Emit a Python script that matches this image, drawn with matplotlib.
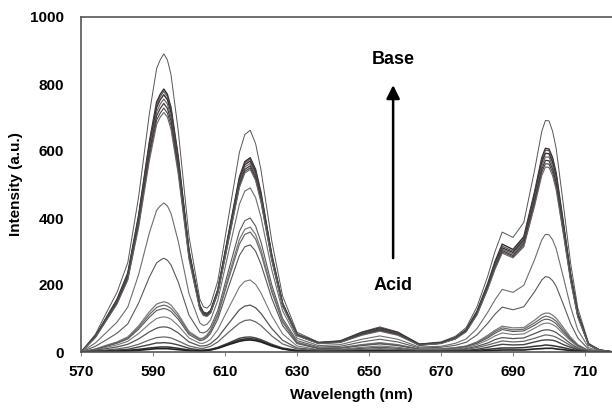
import numpy as np
import matplotlib
matplotlib.use('Agg')
import matplotlib.pyplot as plt

plt.rcParams['font.family'] = ['Liberation Sans', 'DejaVu Sans']

wavelength = [570, 574, 577, 580, 583, 586, 589, 591, 593, 595,
              597, 600, 603, 605, 608, 611, 614, 617, 620, 623,
              626, 630, 636, 642, 648, 653, 658, 664, 670, 674,
              677, 680, 683, 685, 687, 690, 693, 696, 698, 700,
              702, 704, 706, 708, 711, 714, 718]

# spectra from base (top) to acid (bottom)
spectra = [
    [0, 53, 116, 178, 267, 463, 712, 846, 890, 828, 662, 345, 158, 131, 212, 404, 596, 662, 543, 331,
     167, 59, 29, 34, 60, 75, 60, 24, 30, 47, 73, 135, 227, 300, 358, 342, 387, 543, 659, 690,
     607, 439, 265, 131, 26, 7, 0],
    [0, 47, 102, 157, 236, 408, 628, 746, 785, 730, 584, 304, 139, 115, 186, 354, 522, 580, 476, 290,
     146, 53, 28, 32, 58, 72, 58, 23, 28, 43, 67, 122, 205, 270, 322, 306, 344, 478, 580, 606,
     534, 386, 233, 115, 23, 6, 0],
    [0, 47, 101, 156, 233, 405, 622, 739, 778, 724, 579, 302, 138, 114, 185, 351, 518, 576, 472, 288,
     145, 53, 28, 32, 56, 70, 56, 22, 27, 42, 66, 120, 201, 265, 316, 301, 339, 474, 574, 601,
     528, 382, 231, 114, 23, 6, 0],
    [0, 46, 100, 154, 230, 399, 614, 730, 768, 714, 571, 298, 137, 113, 183, 348, 513, 570, 467, 285,
     144, 51, 27, 31, 54, 68, 54, 22, 27, 41, 64, 117, 198, 261, 311, 297, 334, 467, 566, 592,
     521, 377, 228, 112, 22, 6, 0],
    [0, 45, 98, 151, 227, 393, 604, 717, 755, 702, 562, 293, 134, 111, 180, 343, 507, 563, 462, 282,
     142, 51, 26, 30, 54, 67, 54, 21, 26, 41, 63, 115, 195, 258, 307, 293, 329, 459, 556, 582,
     512, 370, 224, 110, 22, 6, 0],
    [0, 45, 96, 148, 223, 386, 594, 705, 742, 690, 552, 288, 132, 109, 178, 339, 500, 556, 456, 278,
     140, 50, 26, 30, 53, 66, 53, 21, 26, 40, 63, 114, 193, 253, 303, 288, 324, 451, 546, 571,
     503, 364, 220, 108, 22, 5, 0],
    [0, 44, 95, 146, 218, 379, 582, 692, 728, 677, 542, 283, 130, 108, 176, 336, 495, 550, 451, 275,
     138, 49, 25, 29, 51, 64, 51, 20, 26, 39, 62, 112, 190, 250, 299, 284, 318, 442, 537, 561,
     493, 357, 216, 106, 21, 5, 0],
    [0, 43, 93, 143, 215, 372, 572, 679, 715, 665, 532, 277, 127, 106, 175, 332, 491, 545, 447, 273,
     137, 49, 25, 28, 50, 62, 50, 20, 25, 39, 60, 111, 188, 247, 295, 281, 314, 436, 527, 551,
     484, 351, 212, 104, 21, 5, 0],
    [0, 27, 58, 89, 134, 231, 356, 423, 445, 414, 331, 174, 87, 83, 154, 299, 441, 490, 402, 245,
     123, 41, 19, 22, 38, 48, 38, 15, 17, 26, 39, 70, 119, 156, 187, 178, 199, 276, 335, 350,
     308, 223, 135, 66, 13, 3, 0],
    [0, 17, 36, 56, 84, 146, 224, 266, 280, 260, 209, 110, 59, 62, 124, 244, 360, 400, 328, 200,
     100, 34, 15, 17, 30, 38, 30, 12, 14, 20, 29, 51, 86, 113, 134, 126, 135, 180, 215, 223,
     196, 142, 85, 42, 8, 2, 0],
    [0, 9, 20, 30, 45, 78, 120, 143, 150, 140, 113, 61, 40, 51, 114, 228, 336, 373, 306, 187,
     93, 29, 12, 13, 22, 28, 22, 9, 9, 13, 18, 30, 50, 65, 77, 72, 73, 95, 112, 116,
     101, 73, 44, 22, 4, 1, 0],
    [0, 8, 18, 28, 42, 73, 112, 133, 140, 130, 106, 57, 38, 48, 109, 218, 322, 358, 294, 179,
     89, 28, 11, 12, 21, 26, 21, 8, 9, 13, 17, 28, 46, 61, 72, 66, 68, 87, 102, 105,
     92, 66, 40, 20, 4, 1, 0],
    [0, 8, 17, 26, 39, 68, 104, 124, 130, 121, 98, 52, 34, 43, 98, 195, 288, 320, 262, 160,
     79, 25, 10, 11, 19, 24, 19, 8, 8, 11, 16, 26, 42, 56, 67, 61, 63, 80, 94, 97,
     84, 60, 37, 18, 4, 1, 0],
    [0, 6, 14, 21, 32, 55, 84, 100, 105, 98, 79, 42, 26, 31, 67, 131, 194, 215, 176, 108,
     54, 18, 7, 8, 14, 18, 14, 6, 7, 9, 13, 22, 36, 48, 57, 52, 54, 71, 83, 86,
     75, 54, 33, 16, 3, 1, 0],
    [0, 5, 10, 15, 23, 39, 60, 71, 75, 70, 57, 30, 18, 20, 43, 85, 126, 140, 115, 70,
     35, 12, 6, 6, 11, 14, 11, 4, 5, 7, 10, 17, 27, 37, 43, 40, 42, 55, 64, 66,
     58, 42, 25, 12, 2, 1, 0],
    [0, 3, 6, 9, 14, 23, 36, 43, 45, 42, 33, 18, 11, 14, 30, 59, 86, 96, 79, 48,
     24, 9, 4, 5, 8, 10, 8, 3, 4, 6, 8, 13, 21, 27, 33, 30, 32, 41, 48, 50,
     44, 32, 19, 9, 2, 0, 0],
    [0, 2, 4, 6, 8, 15, 22, 27, 28, 26, 21, 11, 6, 7, 14, 27, 41, 45, 37, 23,
     12, 5, 2, 3, 5, 6, 5, 2, 3, 4, 5, 8, 14, 19, 23, 21, 22, 30, 35, 36,
     32, 22, 14, 7, 1, 0, 0],
    [0, 1, 2, 3, 5, 8, 12, 14, 15, 14, 11, 6, 4, 5, 12, 24, 36, 40, 33, 20,
     10, 3, 1, 2, 3, 4, 3, 1, 1, 2, 3, 5, 8, 10, 12, 12, 13, 17, 19, 20,
     17, 13, 8, 4, 1, 0, 0],
    [0, 1, 1, 2, 3, 5, 8, 10, 10, 9, 7, 4, 3, 5, 11, 22, 32, 36, 30, 18,
     9, 3, 1, 1, 2, 3, 2, 1, 1, 1, 1, 2, 4, 5, 6, 6, 6, 9, 10, 11,
     9, 7, 4, 2, 0, 0, 0],
]

# extra readings around the peaks and the 605 nm valley
wavelength_extra = [592, 594, 604, 606, 615.5, 618.5, 699, 701]
spectra_extra = [
    [872, 872, 135, 142, 649, 622, 691, 659],
    [769, 769, 119, 124, 568, 545, 608, 580],
    [762, 762, 117, 123, 564, 541, 602, 574],
    [753, 753, 116, 122, 559, 536, 593, 566],
    [740, 740, 114, 120, 552, 529, 582, 556],
    [727, 727, 112, 119, 545, 523, 572, 546],
    [713, 713, 110, 117, 539, 517, 562, 536],
    [701, 701, 109, 116, 534, 512, 552, 526],
    [436, 436, 79, 96, 480, 461, 351, 335],
    [274, 274, 57, 75, 392, 376, 225, 213],
    [147, 147, 42, 66, 366, 351, 116, 110],
    [137, 137, 40, 63, 351, 337, 107, 100],
    [127, 127, 36, 56, 314, 301, 98, 92],
    [103, 103, 26, 38, 211, 202, 86, 82],
    [74, 74, 18, 25, 137, 132, 66, 63],
    [44, 44, 11, 17, 94, 90, 51, 48],
    [27, 27, 6, 8, 44, 42, 36, 35],
    [15, 15, 4, 7, 39, 38, 21, 19],
    [10, 10, 4, 6, 35, 34, 11, 11],
]

line_colors = ['#555555', '#2b2b2b', '#5e4c55', '#333333', '#6b5a62', '#3c3c3c', '#4a3f45', '#666666',
               '#6e6e6e', '#5a5a5a', '#7a7a7a', '#6a6a6a', '#555555', '#777777', '#555555',
               '#666666', '#444444', '#333333', '#222222']
line_widths = [0.7, 1.0, 0.8, 1.0, 0.8, 0.9, 0.8, 0.8,
               0.8, 0.8, 0.9, 0.9, 0.8, 0.8, 0.9, 0.9, 1.0, 1.1, 1.2]

fig = plt.figure(figsize=(6.12, 4.11), dpi=100)
ax = fig.add_axes([81 / 612, 59 / 411, 540 / 612, 335 / 411])

x_all = np.array(wavelength + wavelength_extra, dtype=float)
order = np.argsort(x_all)
for spec, extra, c, lw in zip(spectra, spectra_extra, line_colors, line_widths):
    y_all = np.array(spec + extra, dtype=float)
    ax.plot(x_all[order], y_all[order], color=c, lw=lw, solid_joinstyle='round')

ax.set_xlim(570, 720)
ax.set_ylim(0, 1000)
ax.set_xticks([570, 590, 610, 630, 650, 670, 690, 710])
ax.set_yticks([0, 200, 400, 600, 800, 1000])
for s in ax.spines.values():
    s.set_color('#555555')
    s.set_linewidth(1.2)
ax.tick_params(axis='x', direction='out', length=3, width=0.8, color='#888888', pad=6, labelsize=11)
ax.tick_params(axis='y', direction='out', length=0, pad=12, labelsize=11)
for lab in ax.get_xticklabels() + ax.get_yticklabels():
    lab.set_fontweight('bold')

ax.set_xlabel('Wavelength (nm)', fontsize=11, fontweight='bold', labelpad=7)
ax.set_ylabel('Intensity (a.u.)', fontsize=11, fontweight='bold', labelpad=5)

ax.annotate('', xy=(656.7, 805), xytext=(656.7, 272),
            arrowprops=dict(arrowstyle='-|>', color='black', lw=1.8, mutation_scale=20))
ax.text(656.7, 872, 'Base', ha='center', va='center', fontsize=13, fontweight='bold')
ax.text(656.7, 200, 'Acid', ha='center', va='center', fontsize=13, fontweight='bold')

fig.savefig('out.png', dpi=100)
